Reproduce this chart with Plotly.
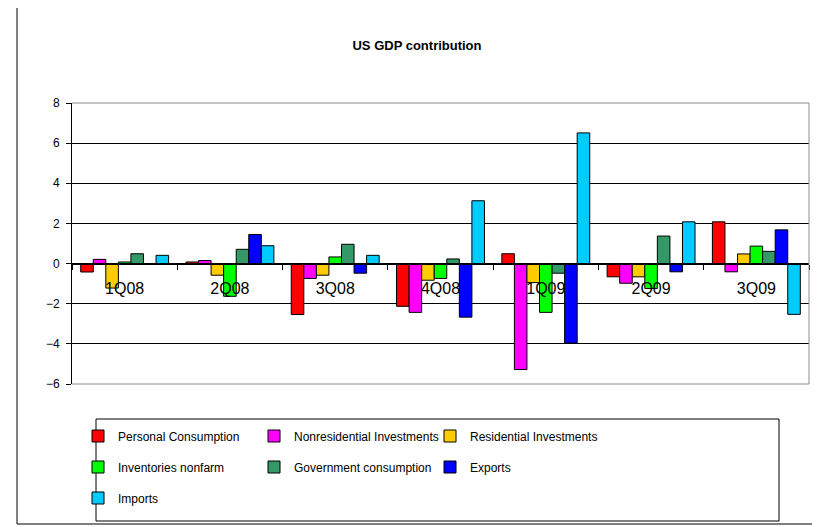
import plotly.graph_objects as go

categories = ["1Q08", "2Q08", "3Q08", "4Q08", "1Q09", "2Q09", "3Q09"]

personal_consumption = [-0.42, 0.08, -2.54, -2.13, 0.49, -0.66, 2.08]
nonresidential_inv = [0.21, 0.15, -0.74, -2.43, -5.28, -0.98, -0.41]
residential_inv = [-1.22, -0.58, -0.58, -0.83, -0.95, -0.66, 0.48]
inventories_nonfarm = [0.08, -1.63, 0.33, -0.74, -2.43, -1.24, 0.87]
government_cons = [0.49, 0.71, 0.96, 0.23, -0.48, 1.37, 0.61]
exports = [0.0, 1.45, -0.48, -2.67, -3.96, -0.41, 1.68]
imports = [0.41, 0.89, 0.41, 3.13, 6.51, 2.08, -2.53]

series_names = ["Personal Consumption", "Nonresidential Investments", "Residential Investments",
                "Inventories nonfarm", "Government consumption", "Exports", "Imports"]
series_values = [personal_consumption, nonresidential_inv, residential_inv,
                 inventories_nonfarm, government_cons, exports, imports]
colors = ["#FF0000", "#FF00FF", "#FFCC00", "#00FF00", "#339966", "#0000FF", "#00CCFF"]
legend_ids = ["legend", "legend", "legend", "legend2", "legend2", "legend2", "legend3"]

# page has an 8px body margin; work in screen pixels and convert
OFF = 8
W, H = 820 - OFF, 527 - OFF
L, R, T, B = 72 - OFF, 809 - OFF, 103 - OFF, 384 - OFF

def px(x):
    return ((x - OFF) - L) / (R - L)

def py(y):
    return (B - (y - OFF)) / (B - T)

FONT = "Arial, Liberation Sans, sans-serif"

fig = go.Figure()
for name, vals, col, lg in zip(series_names, series_values, colors, legend_ids):
    fig.add_trace(go.Bar(
        x=categories, y=vals, name=name, legend=lg,
        marker=dict(color=col, line=dict(color="#000000", width=1)),
    ))

leg_common = dict(orientation="h", font=dict(family=FONT, size=12, color="#000"),
                  bgcolor="rgba(0,0,0,0)", borderwidth=0, entrywidth=131,
                  entrywidthmode="pixels", xanchor="left", yanchor="middle",
                  itemclick=False, itemdoubleclick=False)

fig.update_layout(
    width=W, height=H,
    margin=dict(l=L, r=W - R, t=T, b=H - B, pad=0),
    paper_bgcolor="#FFFFFF", plot_bgcolor="#FFFFFF",
    barmode="group", bargap=0.165, bargroupgap=0,
    title=dict(text="<b>US GDP contribution</b>", xref="container", yref="container",
               x=(417 - OFF) / W, y=1 - (45 - OFF) / H, xanchor="center", yanchor="middle",
               font=dict(family=FONT, size=13, color="#000")),
    legend=dict(x=px(78), y=py(436), **leg_common),
    legend2=dict(x=px(78), y=py(467), **leg_common),
    legend3=dict(x=px(78), y=py(498), **leg_common),
    xaxis=dict(
        type="category", anchor="free", position=6 / 14,
        showline=True, linecolor="#000", linewidth=1,
        ticks="outside", ticklen=5, tickcolor="#000", tickson="boundaries",
        showgrid=False, ticklabelstandoff=10,
        tickfont=dict(family=FONT, size=16, color="#000"),
    ),
    yaxis=dict(
        range=[-6, 8], tickvals=[-6, -4, -2, 0, 2, 4, 6, 8],
        showline=True, linecolor="#000", linewidth=1,
        ticks="outside", ticklen=5, tickcolor="#000",
        showgrid=True, gridcolor="#000", gridwidth=1, zeroline=False,
        ticklabelstandoff=4,
        tickfont=dict(family=FONT, size=12, color="#000"),
    ),
    showlegend=True,
)

# plot area border (gray) on top, right and bottom
for (x0, y0, x1, y1) in [(0, 1, 1, 1), (1, 0, 1, 1), (0, 0, 1, 0)]:
    fig.add_shape(type="line", xref="paper", yref="paper", x0=x0, y0=y0, x1=x1, y1=y1,
                  line=dict(color="#8c8c8c", width=1), layer="above")
# legend box and outer chart border
fig.add_shape(type="rect", xref="paper", yref="paper", x0=px(96), x1=px(779),
              y0=py(521), y1=py(419), line=dict(color="#000", width=1))
fig.add_shape(type="rect", xref="paper", yref="paper", x0=px(17), x1=px(818),
              y0=py(524), y1=py(4), line=dict(color="#000", width=1))

fig.write_html("out.html")
